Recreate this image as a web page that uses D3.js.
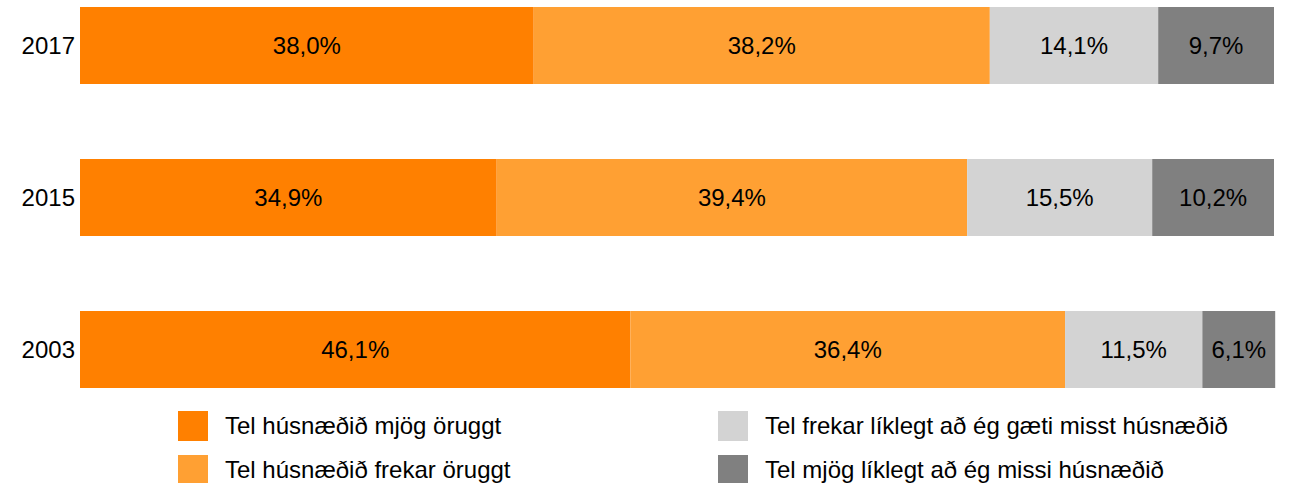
<!DOCTYPE html>
<html>
<head>
<meta charset="utf-8">
<script src="https://cdn.jsdelivr.net/npm/d3@7"></script>
<style>
  body { margin: 0; background: #fff; }
  svg { display: block; font-family: "Liberation Sans", Arial, sans-serif; }
</style>
</head>
<body>
<svg id="chart"></svg>
<script>
const years = ["2017", "2015", "2003"];
const seriesNames = [
    "Tel húsnæðið mjög öruggt",
    "Tel húsnæðið frekar öruggt",
    "Tel frekar líklegt að ég gæti misst húsnæðið",
    "Tel mjög líklegt að ég missi húsnæðið"
];
const verySafe = [38.0, 34.9, 46.1];
const fairlySafe = [38.2, 39.4, 36.4];
const fairlyLikely = [14.1, 15.5, 11.5];
const veryLikely = [9.7, 10.2, 6.1];
const colours = ["#ff8000", "#ffa033", "#d3d3d3", "#808080"];

const width = 1289, height = 483;
const margin = {top: 7, right: 15, bottom: 95, left: 80};
const fontSize = "24px";

const svg = d3.select("#chart").attr("width", width).attr("height", height);

const rows = years.map((year, i) => ({
    year,
    values: [verySafe[i], fairlySafe[i], fairlyLikely[i], veryLikely[i]]
}));

const stack = d3.stack()
    .keys([0, 1, 2, 3])
    .value((d, k) => d.values[k]);
const layers = stack(rows);

const x = d3.scaleLinear()
    .domain([0, 100])
    .range([margin.left, width - margin.right]);

// bars 77px tall, 152px apart
const y = d3.scaleBand()
    .domain(years)
    .range([margin.top, height - margin.bottom])
    .paddingInner(75 / 152)
    .paddingOuter(0);

const g = svg.append("g");

layers.forEach((layer, k) => {
    const grp = g.append("g").attr("class", "series");
    grp.selectAll("rect")
        .data(layer)
        .enter().append("rect")
        .attr("x", d => x(d[0]))
        .attr("y", d => y(d.data.year))
        .attr("width", d => x(d[1]) - x(d[0]))
        .attr("height", y.bandwidth())
        .style("fill", colours[k]);
    grp.selectAll("text")
        .data(layer)
        .enter().append("text")
        .attr("x", d => (x(d[0]) + x(d[1])) / 2)
        .attr("y", d => y(d.data.year) + y.bandwidth() / 2)
        .attr("dy", "0.35em")
        .attr("text-anchor", "middle")
        .style("font-size", fontSize)
        .style("fill", "#000")
        .text(d => (d[1] - d[0]).toFixed(1).replace(".", ",") + "%");
});

// year labels
g.selectAll(".year")
    .data(years)
    .enter().append("text")
    .attr("class", "year")
    .attr("x", margin.left - 5)
    .attr("y", d => y(d) + y.bandwidth() / 2)
    .attr("dy", "0.35em")
    .attr("text-anchor", "end")
    .style("font-size", fontSize)
    .text(d => d);

// legend
const legendX = [178, 718];
const legend = svg.append("g");
seriesNames.forEach((name, i) => {
    const col = Math.floor(i / 2), row = i % 2;
    const item = legend.append("g")
        .attr("transform", `translate(${legendX[col]}, ${411 + row * 44})`);
    item.append("rect")
        .attr("width", 30)
        .attr("height", 30)
        .style("fill", colours[i]);
    item.append("text")
        .attr("x", 47)
        .attr("y", 15)
        .attr("dy", "0.35em")
        .style("font-size", fontSize)
        .text(name);
});
</script>
</body>
</html>
